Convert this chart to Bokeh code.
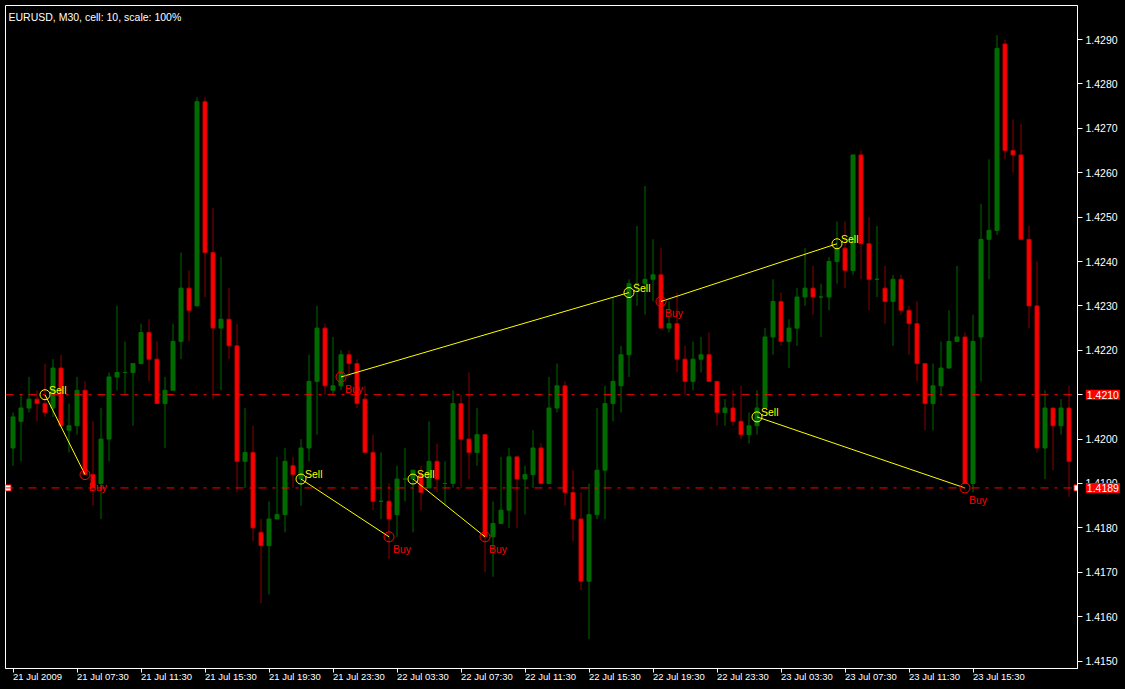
from bokeh.plotting import figure
from bokeh.models import (FixedTicker, PrintfTickFormatter, Span, Label,
                          Range1d, ColumnDataSource)
from bokeh.core.properties import value
from bokeh.embed import file_html
from bokeh.resources import INLINE

# ---------------- data (EURUSD M30) ----------------
open_ = [1.4198, 1.4204, 1.4207, 1.4209, 1.4208, 1.4207, 1.4216, 1.4202, 1.4203, 1.4211,
         1.4192, 1.4190, 1.4200, 1.4214, 1.4215, 1.4215, 1.4217, 1.4224, 1.4218, 1.4208,
         1.4211, 1.4222, 1.4234, 1.4230, 1.4276, 1.4242, 1.4225, 1.4227, 1.4221, 1.4195,
         1.4197, 1.4179, 1.4176, 1.4182, 1.4183, 1.4194, 1.4191, 1.4198, 1.4213, 1.4225,
         1.4211, 1.4212, 1.4219, 1.4217, 1.4209, 1.4197, 1.4186, 1.4186, 1.4183, 1.4191,
         1.4191, 1.4192, 1.4189, 1.4195, 1.4190, 1.4190, 1.4208, 1.4200, 1.4197, 1.4201,
         1.4178, 1.4181, 1.4184, 1.4196, 1.4191, 1.4192, 1.4198, 1.4190, 1.4207, 1.4212,
         1.4188, 1.4182, 1.4168, 1.4183, 1.4193, 1.4208, 1.4212, 1.4219, 1.4235, 1.4235,
         1.4236, 1.4237, 1.4225, 1.4226, 1.4218, 1.4213, 1.4218, 1.4219, 1.4213, 1.4206,
         1.4207, 1.4204, 1.4201, 1.4203, 1.4207, 1.4223, 1.4231, 1.4222, 1.4225, 1.4232,
         1.4234, 1.4232, 1.4232, 1.4240, 1.4243, 1.4238, 1.4264, 1.4244, 1.4236, 1.4234,
         1.4231, 1.4236, 1.4229, 1.4226, 1.4217, 1.4208, 1.4212, 1.4216, 1.4222, 1.4223,
         1.4190, 1.4223, 1.4245, 1.4247, 1.4289, 1.4265, 1.4264, 1.4245, 1.4230, 1.4198,
         1.4207, 1.4203, 1.4207]
high = [1.4206, 1.4210, 1.4214, 1.4211, 1.4217, 1.4218, 1.4219, 1.4208, 1.4214, 1.4213,
        1.4204, 1.4207, 1.4215, 1.4230, 1.4222, 1.4217, 1.4226, 1.4227, 1.4222, 1.4214,
        1.4226, 1.4242, 1.4238, 1.4277, 1.4277, 1.4252, 1.4241, 1.4234, 1.4226, 1.4207,
        1.4203, 1.4182, 1.4186, 1.4196, 1.4198, 1.4196, 1.4200, 1.4219, 1.4230, 1.4226,
        1.4223, 1.4220, 1.4220, 1.4218, 1.4212, 1.4201, 1.4197, 1.4190, 1.4194, 1.4198,
        1.4193, 1.4194, 1.4204, 1.4199, 1.4195, 1.4211, 1.4210, 1.4215, 1.4207, 1.4201,
        1.4186, 1.4196, 1.4198, 1.4196, 1.4194, 1.4202, 1.4199, 1.4214, 1.4217, 1.4213,
        1.4193, 1.4188, 1.4190, 1.4207, 1.4212, 1.4232, 1.4221, 1.4236, 1.4248, 1.4257,
        1.4245, 1.4243, 1.4231, 1.4233, 1.4221, 1.4222, 1.4223, 1.4224, 1.4213, 1.4209,
        1.4211, 1.4212, 1.4206, 1.4211, 1.4225, 1.4236, 1.4233, 1.4227, 1.4234, 1.4243,
        1.4239, 1.4235, 1.4241, 1.4249, 1.4249, 1.4264, 1.4265, 1.4250, 1.4248, 1.4239,
        1.4237, 1.4237, 1.4230, 1.4231, 1.4217, 1.4217, 1.4222, 1.4229, 1.4239, 1.4224,
        1.4228, 1.4253, 1.4263, 1.4291, 1.4290, 1.4272, 1.4271, 1.4248, 1.4240, 1.4211,
        1.4207, 1.4209, 1.4212]
low = [1.4194, 1.4195, 1.4206, 1.4204, 1.4205, 1.4205, 1.4203, 1.4197, 1.4201, 1.4192,
       1.4185, 1.4182, 1.4195, 1.4211, 1.4210, 1.4203, 1.4217, 1.4213, 1.4208, 1.4198,
       1.4211, 1.4218, 1.4222, 1.4230, 1.4232, 1.4209, 1.4211, 1.4218, 1.4188, 1.4189,
       1.4177, 1.4163, 1.4165, 1.4182, 1.4179, 1.4189, 1.4185, 1.4195, 1.4201, 1.4210,
       1.4210, 1.4211, 1.4214, 1.4207, 1.4197, 1.4184, 1.4182, 1.4173, 1.4178, 1.4186,
       1.4179, 1.4184, 1.4189, 1.4188, 1.4185, 1.4189, 1.4189, 1.4191, 1.4194, 1.4170,
       1.4169, 1.4181, 1.4180, 1.4180, 1.4183, 1.4189, 1.4190, 1.4190, 1.4206, 1.4185,
       1.4177, 1.4166, 1.4155, 1.4182, 1.4182, 1.4204, 1.4206, 1.4214, 1.4230, 1.4228,
       1.4231, 1.4225, 1.4224, 1.4215, 1.4210, 1.4211, 1.4215, 1.4213, 1.4203, 1.4203,
       1.4203, 1.4200, 1.4199, 1.4201, 1.4207, 1.4219, 1.4221, 1.4216, 1.4221, 1.4230,
       1.4228, 1.4223, 1.4229, 1.4235, 1.4234, 1.4237, 1.4236, 1.4229, 1.4232, 1.4226,
       1.4221, 1.4228, 1.4219, 1.4213, 1.4202, 1.4202, 1.4210, 1.4216, 1.4222, 1.4190,
       1.4188, 1.4213, 1.4236, 1.4246, 1.4263, 1.4260, 1.4245, 1.4225, 1.4197, 1.4191,
       1.4193, 1.4201, 1.4187]
close = [1.4205, 1.4207, 1.4209, 1.4208, 1.4206, 1.4216, 1.4203, 1.4203, 1.4211, 1.4192,
         1.4189, 1.4200, 1.4214, 1.4215, 1.4215, 1.4217, 1.4224, 1.4218, 1.4208, 1.4211,
         1.4222, 1.4234, 1.4229, 1.4276, 1.4242, 1.4225, 1.4227, 1.4221, 1.4195, 1.4197,
         1.4180, 1.4176, 1.4182, 1.4183, 1.4195, 1.4192, 1.4198, 1.4213, 1.4225, 1.4212,
         1.4212, 1.4219, 1.4217, 1.4208, 1.4197, 1.4186, 1.4186, 1.4182, 1.4191, 1.4191,
         1.4193, 1.4188, 1.4195, 1.4191, 1.4190, 1.4208, 1.4200, 1.4197, 1.4201, 1.4178,
         1.4181, 1.4184, 1.4196, 1.4191, 1.4192, 1.4198, 1.4190, 1.4207, 1.4212, 1.4188,
         1.4182, 1.4168, 1.4183, 1.4193, 1.4208, 1.4213, 1.4219, 1.4235, 1.4235, 1.4236,
         1.4237, 1.4225, 1.4226, 1.4218, 1.4213, 1.4218, 1.4219, 1.4213, 1.4206, 1.4207,
         1.4204, 1.4201, 1.4203, 1.4207, 1.4223, 1.4231, 1.4222, 1.4225, 1.4232, 1.4234,
         1.4232, 1.4232, 1.4240, 1.4243, 1.4238, 1.4264, 1.4244, 1.4236, 1.4236, 1.4231,
         1.4236, 1.4229, 1.4226, 1.4217, 1.4208, 1.4212, 1.4216, 1.4222, 1.4223, 1.4190,
         1.4222, 1.4245, 1.4247, 1.4288, 1.4265, 1.4264, 1.4245, 1.4230, 1.4198, 1.4207,
         1.4203, 1.4207, 1.4195]

time_tick_bars = [0, 8, 16, 24, 32, 40, 48, 56, 64, 72, 80, 88, 96, 104, 112, 120]
time_labels = ["21 Jul 2009", "21 Jul 07:30", "21 Jul 11:30", "21 Jul 15:30",
               "21 Jul 19:30", "21 Jul 23:30", "22 Jul 03:30", "22 Jul 07:30",
               "22 Jul 11:30", "22 Jul 15:30", "22 Jul 19:30", "22 Jul 23:30",
               "23 Jul 03:30", "23 Jul 07:30", "23 Jul 11:30", "23 Jul 15:30"]
price_ticks = [1.4150, 1.4160, 1.4170, 1.4180, 1.4190, 1.4200, 1.4210, 1.4220,
               1.4230, 1.4240, 1.4250, 1.4260, 1.4270, 1.4280, 1.4290]

# trades: open bar/price -> close bar/price
trade_open_bar = [4, 36, 41, 50, 81, 93]
trade_open_price = [1.4210, 1.4191, 1.4214, 1.4191, 1.4231, 1.4205]
trade_close_bar = [9, 47, 77, 59, 103, 119]
trade_close_price = [1.4192, 1.4178, 1.4233, 1.4178, 1.4244, 1.4189]

sell_bars = [4, 36, 50, 77, 93, 103]
sell_prices = [1.4210, 1.4191, 1.4191, 1.4233, 1.4205, 1.4244]
buy_bars = [9, 47, 59, 41, 119, 81]
buy_prices = [1.4192, 1.4178, 1.4178, 1.4214, 1.4189, 1.4231]

hline_levels = [1.4210, 1.4189]
chart_title = "EURUSD, M30, cell: 10, scale: 100%"

# ---------------- styling ----------------
GREEN = "#006b00"
RED = "#ff0000"
RED_EDGE = "#c00000"
RED_WICK = "#8b0000"
YELLOW = "#ffff00"
FONT = "Liberation Sans"

p = figure(frame_width=1072, frame_height=663,
           x_range=Range1d(-0.9375, 133.0625),
           y_range=Range1d(1.4148333, 1.4297658),
           y_axis_location="right",
           output_backend="svg", toolbar_location=None,
           background_fill_color="black", border_fill_color="black",
           min_border_left=5, min_border_top=5,
           min_border_right=48, min_border_bottom=21)
p.outline_line_color = "white"
p.outline_line_width = 1
p.xgrid.visible = False
p.ygrid.visible = False

# axes
xa = p.xaxis[0]
xa.ticker = FixedTicker(ticks=time_tick_bars)
xa.major_label_overrides = {b: t for b, t in zip(time_tick_bars, time_labels)}
xa.axis_line_color = "white"
xa.major_tick_line_color = "white"
xa.minor_tick_line_color = None
xa.major_tick_in = 0
xa.major_tick_out = 4
xa.major_label_standoff = 4
xa.major_label_text_color = "white"
xa.major_label_text_font = FONT
xa.major_label_text_font_size = "9.5px"
xa.major_label_orientation = -0.0001   # tiny angle -> labels start at the tick

ya = p.yaxis[0]
ya.ticker = FixedTicker(ticks=price_ticks)
ya.formatter = PrintfTickFormatter(format="%.4f")
ya.axis_line_color = "white"
ya.major_tick_line_color = "white"
ya.minor_tick_line_color = None
ya.major_tick_in = 0
ya.major_tick_out = 5
ya.major_label_standoff = 3
ya.major_label_text_color = "white"
ya.major_label_text_font = FONT
ya.major_label_text_font_size = "10.5px"

# horizontal lines
for lvl in hline_levels:
    p.add_layout(Span(location=lvl, dimension="width", line_color=RED,
                      line_width=1, line_dash="8 6 3 6"))

# candles
n = len(open_)
inc = [i for i in range(n) if close[i] >= open_[i]]
dec = [i for i in range(n) if close[i] < open_[i]]

def src(idx):
    return ColumnDataSource(dict(
        x=[i for i in idx],
        high=[high[i] for i in idx],
        low=[low[i] for i in idx],
        top=[max(open_[i], close[i]) for i in idx],
        bottom=[min(open_[i], close[i]) for i in idx],
    ))

s_inc = src(inc)
s_dec = src(dec)
p.segment(x0="x", y0="high", x1="x", y1="low", source=s_inc, line_color=GREEN, line_width=1)
p.segment(x0="x", y0="high", x1="x", y1="low", source=s_dec, line_color=RED_WICK, line_width=1)
p.vbar(x="x", width=0.5, top="top", bottom="bottom", source=s_inc,
       fill_color=GREEN, line_color=GREEN, line_width=1)
p.vbar(x="x", width=0.5, top="top", bottom="bottom", source=s_dec,
       fill_color=RED, line_color=RED_EDGE, line_width=1)

# trade lines
p.segment(x0=trade_open_bar, y0=trade_open_price, x1=trade_close_bar, y1=trade_close_price,
          line_color=YELLOW, line_width=1)

# markers
p.scatter(x=sell_bars, y=sell_prices, marker="circle", size=10,
          fill_alpha=0, line_color=YELLOW, line_width=1)
p.scatter(x=buy_bars, y=buy_prices, marker="circle", size=10,
          fill_alpha=0, line_color=RED, line_width=1)
p.text(x=sell_bars, y=sell_prices, text=["Sell"] * len(sell_bars),
       x_offset=4, y_offset=-5, text_color=YELLOW, text_font=value(FONT),
       text_font_size="10.5px", text_baseline="middle", text_align="left")
p.text(x=buy_bars, y=buy_prices, text=["Buy"] * len(buy_bars),
       x_offset=4, y_offset=12, text_color=RED, text_font=value(FONT),
       text_font_size="10.5px", text_baseline="middle", text_align="left")

# anchor squares of the selected line
p.scatter(x=[-0.625, 133.0], y=[hline_levels[1]] * 2, marker="square", size=6,
          fill_color="white", line_color=RED, line_width=1)

# red price boxes on the axis (placed in the right side panel so they are not clipped)
for lvl in hline_levels:
    p.add_layout(Label(x=134.1, y=lvl, text=f"{lvl:.4f}", text_color="white",
                       text_font=FONT, text_font_size="10.5px",
                       text_baseline="middle", text_align="left",
                       background_fill_color=RED, padding=1), "right")

# title
p.add_layout(Label(x=-0.5625, y=1.429518, text=chart_title, text_color="white",
                   text_font=FONT, text_font_size="10.5px",
                   text_baseline="middle", text_align="left"))

html = file_html(p, INLINE, title="EURUSD M30")
html = html.replace("</head>",
                    "<style>html,body{margin:0;padding:0;background:#000000;overflow:hidden;}</style></head>", 1)
open("out.html", "w").write(html)
